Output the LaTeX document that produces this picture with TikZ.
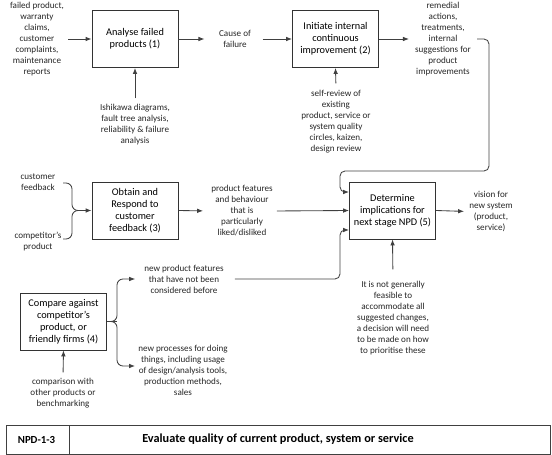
\documentclass[tikz,border=0pt]{standalone}
\usepackage{fontspec}
\setmainfont{Carlito}
\usetikzlibrary{arrows.meta}

\begin{document}
\begin{tikzpicture}[x=1pt, y=-1pt, >={Latex[length=6pt,width=4.6pt]},
    line/.style={draw=black!75, line width=0.85pt},
    box/.style={draw=black!80, line width=0.85pt, align=center,
      minimum width=86pt, minimum height=57pt, inner sep=2pt,
      font=\fontsize{10.3}{12}\selectfont},
    note/.style={align=center, inner sep=1pt, text=black!85,
      font=\fontsize{9.1}{11}\selectfont}]
  \useasboundingbox (0,0) rectangle (552,455);
  % boxes
  \node[box] (anl) at (135,39) {Analyse failed\\products (1)};
  \node[box] (imp) at (335.5,39) {Initiate internal\\continuous\\improvement (2)};
  \node[box] (obt) at (135,210.5) {Obtain and\\Respond to\\customer\\feedback (3)};
  \node[box] (cmp) at (63.5,321.5) {Compare against\\competitor's\\product, or\\friendly firms (4)};
  \node[box] (det) at (392.5,210.5) {Determine\\implications for\\next stage NPD (5)};
  % notes
  \node[note] (fail) at (37,39) {failed product,\\warranty\\claims,\\customer\\complaints,\\maintenance\\reports};
  \node[note] (cause) at (235,39) {Cause of\\failure};
  \node[note] (tools) at (135,125) {Ishikawa diagrams,\\fault tree analysis,\\reliability \& failure\\analysis};
  \node[note] (self) at (336,122) {self-review of\\existing\\product, service or\\system quality\\circles, kaizen,\\design review};
  \node[note] (remed) at (443,39) {remedial\\actions,\\treatments,\\internal\\suggestions for\\product\\improvements};
  \node[note] (custfb) at (38,182) {customer\\feedback};
  \node[note] (compet) at (38,242) {competitor's\\product};
  \node[note] (liked) at (242,211) {product features\\and behaviour\\that is\\particularly\\liked/disliked};
  \node[note] (vision) at (491,211.5) {vision for\\new system\\(product,\\service)};
  \node[note] (feas) at (393,318.5) {It is not generally\\feasible to\\accommodate all\\suggested changes,\\a decision will need\\to be made on how\\to prioritise these};
  \node[note] (newfeat) at (184,279) {new product features\\that have not been\\considered before};
  \node[note] (newproc) at (183,370) {new processes for doing\\things, including usage\\of design/analysis tools,\\production methods,\\sales};
  \node[note] (bench) at (63,393) {comparison with\\other products  or\\benchmarking};
  % brace points
  \coordinate (brTop) at (63,183);
  \coordinate (brBot) at (63,239);
  \coordinate (brL) at (72,210.5);
  \coordinate (brR) at (117,321.5);
  % connectors, top row
  \draw[line,->,shorten <=3pt] (fail.east) -- (anl.west);
  \draw[line,->,shorten >=13.5pt] (anl.east) -- (cause.west);
  \draw[line,->,shorten <=10.5pt] (cause.east) -- (imp.west);
  \draw[line,->,shorten <=5pt] (tools.north) -- (anl.south);
  \draw[line,->,shorten <=6pt] (self.north) -- (imp.south);
  \draw[line,->,shorten >=5pt] (imp.east) -- (remed.west);
  \draw[line,->,rounded corners=5pt,shorten <=5pt] (remed.east) -- (489,39)
    -- (489,171) -- (340,171) -- (340,192) -- ([yshift=18.5pt]det.west);
  % middle row
  \draw[line,->,rounded corners=6pt] (brTop) -| (brL) -- (obt.west);
  \draw[line,rounded corners=6pt] (brBot) -| (brL) -- (80,210.5);
  \draw[line,->,shorten >=7pt] (obt.east) -- (liked.west);
  \draw[line,->,shorten <=3pt] (liked.east) -- (det.west);
  \draw[line,->,shorten >=4pt] (det.east) -- (vision.west);
  \draw[line,->,shorten <=11pt] (feas.north) -- (det.south);
  % bottom row
  \draw[line] (cmp.east) -- (brR);
  \draw[line,->,rounded corners=6pt,shorten >=8pt] (112,321.5) -- (brR) |- (newfeat.west);
  \draw[line,->,rounded corners=6pt,shorten >=2pt] (112,321.5) -- (brR) |- ([yshift=4pt]newproc.west);
  \draw[line,->,rounded corners=5pt,shorten <=10pt] (newfeat.east) -| (340,230) -- ([yshift=-19.5pt]det.west);
  \draw[line,->,shorten <=4.5pt] (bench.north) -- (cmp.south);
  % title bar
  \draw[line] (6,425) rectangle (550,454);
  \draw[line] (69,425) -- (69,454);
  \node[font=\bfseries\fontsize{10.8}{12}\selectfont] (code) at (36.5,439.5) {NPD-1-3};
  \node[font=\bfseries\fontsize{12.3}{14}\selectfont] (title) at (278,439.5) {Evaluate quality of current product, system or service};
\end{tikzpicture}
\end{document}
